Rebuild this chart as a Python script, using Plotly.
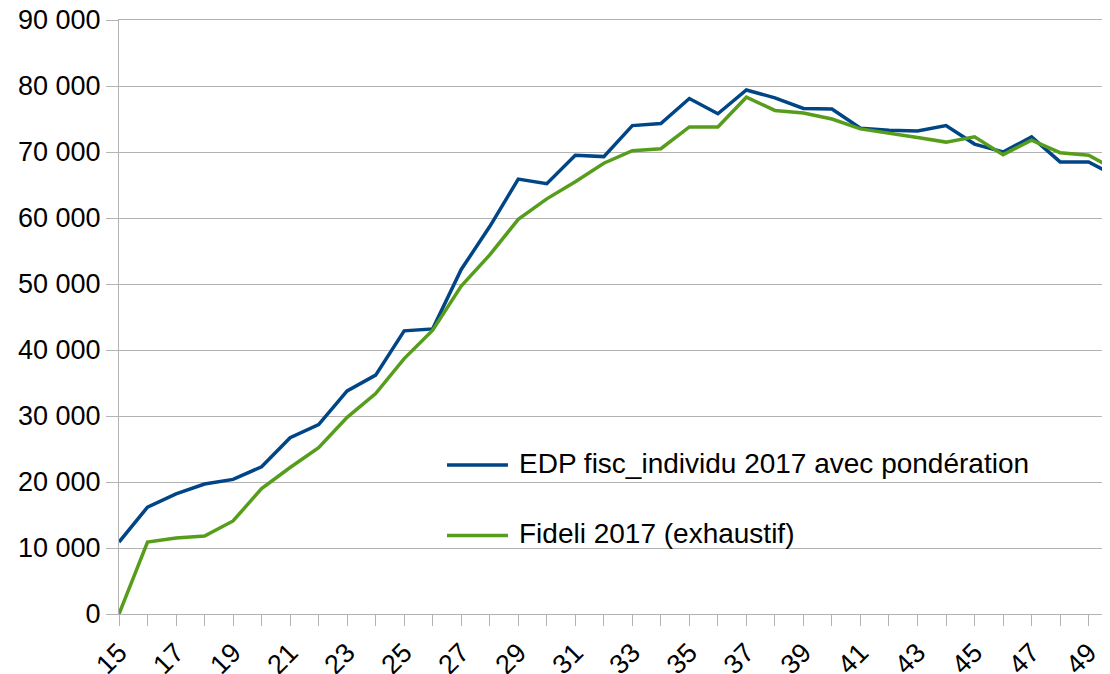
import plotly.graph_objects as go

# âges 15..50
ages = list(range(15, 51))

edp_pondere = [
    10900, 16200, 18200, 19700, 20400, 22300, 26700, 28700, 33800, 36200,
    42900, 43200, 52200, 58700, 65900, 65200, 69500, 69300, 74000, 74300,
    78100, 75800, 79400, 78200, 76600, 76500, 73600, 73300, 73200, 74000,
    71200, 70000, 72300, 68500, 68500, 66200,
]
fideli = [
    0, 10900, 11500, 11800, 14100, 19000, 22200, 25200, 29800, 33400,
    38700, 43000, 49700, 54400, 59800, 62900, 65500, 68300, 70200, 70500,
    73800, 73800, 78300, 76300, 75900, 75000, 73500, 72900, 72200, 71500,
    72300, 69600, 71800, 69900, 69500, 67200,
]
series_names = ["EDP fisc_individu 2017 avec pondération", "Fideli 2017 (exhaustif)"]

y_ticks = [0, 10000, 20000, 30000, 40000, 50000, 60000, 70000, 80000, 90000]
y_labels = ["0", "10 000", "20 000", "30 000", "40 000", "50 000",
            "60 000", "70 000", "80 000", "90 000"]
x_ticks = list(range(15, 50))
x_labels = [str(a) if a % 2 == 1 else "" for a in x_ticks]

BLUE = "#004586"
GREEN = "#579d1c"
GRID = "#b3b3b3"
FONT = "Liberation Sans, Arial, sans-serif"

fig = go.Figure()
for name, vals, color in zip(series_names, [edp_pondere, fideli], [BLUE, GREEN]):
    fig.add_trace(go.Scatter(
        x=ages, y=vals, mode="lines", name=name,
        line=dict(color=color, width=3.5),
    ))

# légende dessinée à la main (trait long comme dans l'original)
legend_y = [0.2508, 0.132]
for name, color, ly in zip(series_names, [BLUE, GREEN], legend_y):
    fig.add_shape(type="line", xref="paper", yref="paper",
                  x0=0.331, x1=0.3925, y0=ly, y1=ly,
                  line=dict(color=color, width=3.5))
    fig.add_annotation(xref="paper", yref="paper", x=0.4016, y=ly,
                       xanchor="left", yanchor="middle", yshift=2,
                       text=name, showarrow=False, font=dict(size=28))

fig.update_layout(
    width=1102, height=666,
    margin=dict(l=111, r=0, t=12, b=60),
    paper_bgcolor="white", plot_bgcolor="white",
    font=dict(family=FONT, size=27, color="black"),
    showlegend=False,
    xaxis=dict(
        range=[15, 49.75], tickvals=x_ticks, ticktext=x_labels, tickangle=-45,
        showgrid=False, zeroline=False, automargin=False,
        showline=True, mirror=True, linecolor=GRID, linewidth=1,
        ticks="outside", ticklen=11, tickcolor=GRID, ticklabeloverflow="allow",
    ),
    yaxis=dict(
        range=[0, 90000], tickvals=y_ticks, ticktext=y_labels,
        showgrid=True, gridcolor=GRID, gridwidth=1, zeroline=False,
        showline=True, linecolor=GRID, linewidth=1, automargin=False,
        ticks="outside", ticklen=12, tickcolor=GRID, ticklabeloverflow="allow",
    ),
)

fig.write_html("out.html")
